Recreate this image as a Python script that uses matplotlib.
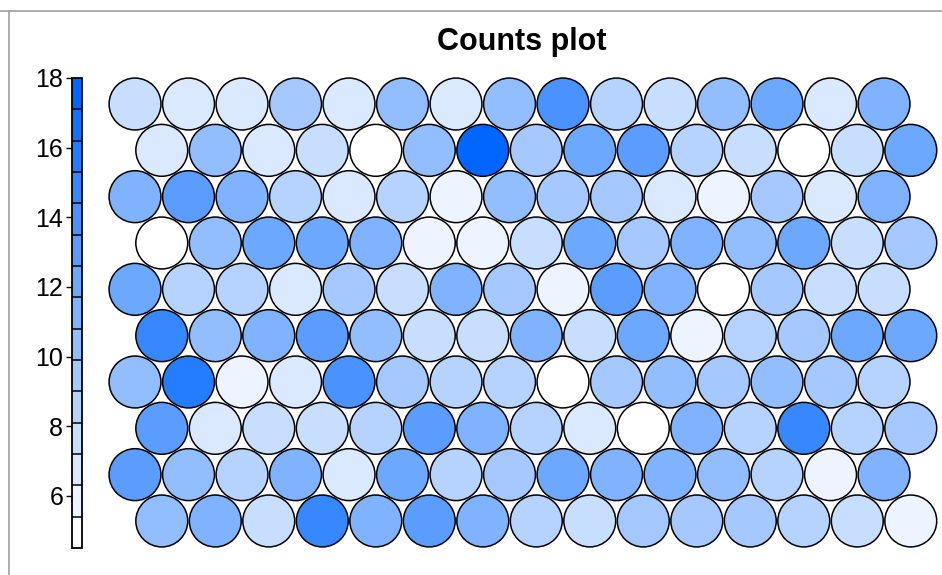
import numpy as np
import matplotlib
matplotlib.use("Agg")
import matplotlib.pyplot as plt
from matplotlib.colors import ListedColormap, BoundaryNorm, to_rgb
from matplotlib.patches import Circle
from matplotlib.lines import Line2D
from matplotlib.cm import ScalarMappable

plt.rcParams['font.family'] = ['Liberation Sans', 'DejaVu Sans']

# SOM grid: 15 units per row, 10 rows; rows listed top to bottom
n_cols = 15
n_rows = 10
counts = [
    [7.6, 6.8, 6.8, 9.4, 6.8, 10.4, 6.8, 10.4, 14.0, 8.6, 7.6, 10.4, 12.2, 6.8, 11.2],
    [6.8, 10.4, 6.8, 7.6, 5.0, 10.4, 18.0, 9.4, 12.2, 13.0, 8.6, 7.6, 5.0, 7.6, 12.2],
    [11.2, 13.0, 11.2, 8.6, 6.8, 8.6, 5.8, 10.4, 9.4, 9.4, 6.8, 5.8, 9.4, 6.8, 11.2],
    [5.0, 10.4, 12.2, 12.2, 11.2, 5.8, 5.8, 7.6, 12.2, 9.4, 11.2, 10.4, 12.2, 7.6, 9.4],
    [12.2, 8.6, 8.6, 6.8, 9.4, 7.6, 11.2, 9.4, 5.8, 13.0, 11.2, 5.0, 9.4, 7.6, 7.6],
    [14.8, 10.4, 11.2, 13.0, 10.4, 7.6, 7.6, 11.2, 7.6, 12.2, 5.8, 8.6, 9.4, 12.2, 12.2],
    [10.4, 15.8, 5.8, 6.8, 14.0, 9.4, 8.6, 8.6, 5.0, 9.4, 10.4, 9.4, 10.4, 9.4, 8.6],
    [13.0, 6.8, 7.6, 7.6, 8.6, 13.0, 11.2, 8.6, 6.8, 5.0, 11.2, 8.6, 14.8, 8.6, 9.4],
    [13.0, 10.4, 8.6, 11.2, 6.8, 12.2, 8.6, 9.4, 12.2, 11.2, 11.2, 10.4, 8.6, 5.8, 11.2],
    [10.4, 11.2, 7.6, 14.8, 11.2, 13.0, 11.2, 8.6, 7.6, 9.4, 9.4, 9.4, 8.6, 7.6, 5.8],
]
zlim = [4.5, 18.0]
n_colors = 15
cbar_ticks = [6, 8, 10, 12, 14, 16, 18]

# white -> blue ramp
lo = np.array(to_rgb('white'))
hi = np.array(to_rgb('#0066FF'))
ramp = [lo + (hi - lo) * k / (n_colors - 1) for k in range(n_colors)]
cmap = ListedColormap(ramp)
bounds = np.linspace(zlim[0], zlim[1], n_colors + 1)
norm = BoundaryNorm(bounds, n_colors, clip=True)

fig = plt.figure(figsize=(9.42, 5.75), dpi=100)

# frame lines
fig.add_artist(Line2D([0, 1], [1 - 10.5 / 575, 1 - 10.5 / 575],
                      transform=fig.transFigure, color='#a0a0a0', lw=1.2))
fig.add_artist(Line2D([8.5 / 942, 8.5 / 942], [0, 1 - 10.5 / 575],
                      transform=fig.transFigure, color='#a0a0a0', lw=1.2))

# map area, 53.5 px per grid unit
ax = fig.add_axes([105.6 / 942, 1 - 550.4 / 575, 834.6 / 942, 475.8 / 575])
ax.set_xlim(-0.55, 15.05)
ax.set_ylim(-0.55, 8.344)
ax.axis('off')

row_h = np.sqrt(3) / 2
vals = np.array(counts)[::-1]  # bottom row first
for j in range(n_rows):
    shift = 0.5 if j % 2 == 0 else 0.0
    for i in range(n_cols):
        c = Circle((i + shift, j * row_h), 0.485,
                   facecolor=cmap(norm(vals[j, i])), edgecolor='black', lw=1.1)
        ax.add_patch(c)

fig.text(522 / 942, 1 - 50 / 575, 'Counts plot', ha='center', va='baseline',
         fontsize=22, fontweight='bold')

# colour key
cax = fig.add_axes([71.5 / 942, 1 - 548 / 575, 10 / 942, 470 / 575])
sm = ScalarMappable(norm=norm, cmap=cmap)
cb = fig.colorbar(sm, cax=cax, boundaries=bounds, drawedges=True)
cb.minorticks_off()
cb.outline.set_edgecolor('black')
cb.outline.set_linewidth(1.3)
cb.dividers.set_color('black')
cb.dividers.set_linewidth(1.1)
cb.set_ticks(cbar_ticks)
cax.yaxis.set_ticks_position('left')
cax.yaxis.set_label_position('left')
cax.tick_params(axis='y', labelsize=18, length=4, width=1, pad=2)

fig.savefig('out.png', dpi=100)
